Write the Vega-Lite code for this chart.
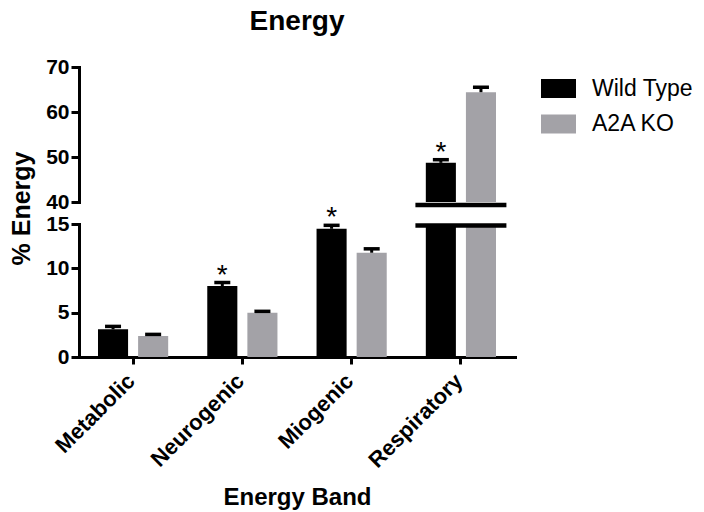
{
  "$schema": "https://vega.github.io/schema/vega-lite/v6.json",
  "padding": {"left": 9, "top": 8, "right": 5, "bottom": 0},
  "bounds": "flush",
  "title": {"text": "Energy", "font": "Liberation Sans", "fontSize": 28, "fontWeight": "bold", "color": "#000000", "anchor": "middle", "offset": 20, "dx": -56},
  "datasets": {
    "bars": [
      {"category": "Metabolic", "group": "Wild Type", "value": 3.12, "hi": 3.45, "sig": ""},
      {"category": "Metabolic", "group": "A2A KO", "value": 2.37, "hi": 2.55, "sig": ""},
      {"category": "Neurogenic", "group": "Wild Type", "value": 8.0, "hi": 8.4, "sig": "*"},
      {"category": "Neurogenic", "group": "A2A KO", "value": 5.0, "hi": 5.15, "sig": ""},
      {"category": "Miogenic", "group": "Wild Type", "value": 14.46, "hi": 14.85, "sig": "*"},
      {"category": "Miogenic", "group": "A2A KO", "value": 11.76, "hi": 12.2, "sig": ""},
      {"category": "Respiratory", "group": "Wild Type", "value": 48.7, "hi": 49.4, "sig": "*"},
      {"category": "Respiratory", "group": "A2A KO", "value": 64.4, "hi": 65.5, "sig": ""}
    ]
  },
  "data": {"name": "bars"},
  "spacing": 22,
  "resolve": {"scale": {"y": "independent"}},
  "vconcat": [
    {
      "width": 436,
      "height": 135,
      "encoding": {
        "x": {"field": "category", "type": "nominal", "sort": ["Metabolic", "Neurogenic", "Miogenic", "Respiratory"], "scale": {"domain": ["Metabolic", "Neurogenic", "Miogenic", "Respiratory"], "paddingInner": 0.266, "paddingOuter": 0.128}, "axis": null}
      },
      "layer": [
        {
          "mark": {"type": "bar", "clip": true},
          "encoding": {
            "xOffset": {"field": "group", "type": "nominal", "scale": {"domain": ["Wild Type", "A2A KO"], "paddingInner": 0.25, "paddingOuter": 0.125}},
            "y": {"field": "value", "type": "quantitative", "scale": {"domain": [40, 70], "zero": false, "nice": false}, "axis": {"values": [40, 50, 60, 70], "title": "% Energy", "titleX": -50, "titleY": 141, "titleAngle": 270, "titleAlign": "center", "titleBaseline": "alphabetic", "titleFontSize": 25}},
            "color": {"field": "group", "type": "nominal", "scale": {"domain": ["Wild Type", "A2A KO"], "range": ["#000000", "#a3a2a7"]}, "legend": {"title": null}}
          }
        },
        {
          "transform": [{"filter": "datum.value > 40"}],
          "mark": {"type": "rule", "color": "#000000", "strokeWidth": 3},
          "encoding": {"xOffset": {"field": "group", "type": "nominal"}, "y": {"field": "value", "type": "quantitative"}, "y2": {"field": "hi"}}
        },
        {
          "transform": [{"filter": "datum.value > 40"}],
          "mark": {"type": "tick", "color": "#000000", "size": 16, "thickness": 3.5, "opacity": 1},
          "encoding": {"xOffset": {"field": "group", "type": "nominal"}, "y": {"field": "hi", "type": "quantitative"}}
        },
        {
          "transform": [{"filter": "datum.value > 40 && datum.sig != ''"}],
          "mark": {"type": "text", "font": "Liberation Sans", "fontSize": 28, "baseline": "alphabetic", "dy": 1, "color": "#000000"},
          "encoding": {"xOffset": {"field": "group", "type": "nominal"}, "y": {"field": "hi", "type": "quantitative"}, "text": {"field": "sig"}}
        },
        {
          "transform": [{"filter": "datum.category == 'Respiratory' && datum.group == 'Wild Type'"}],
          "mark": {"type": "tick", "color": "#000000", "size": 91, "thickness": 4.5, "yOffset": 3, "opacity": 1},
          "encoding": {"y": {"datum": 40, "type": "quantitative"}}
        }
      ]
    },
    {
      "width": 436,
      "height": 133,
      "encoding": {
        "x": {"field": "category", "type": "nominal", "sort": ["Metabolic", "Neurogenic", "Miogenic", "Respiratory"], "scale": {"domain": ["Metabolic", "Neurogenic", "Miogenic", "Respiratory"], "paddingInner": 0.266, "paddingOuter": 0.128}, "axis": {"title": "Energy Band", "labelAngle": -45, "labelFontSize": 22, "labelFontWeight": "bold", "labelOffset": -9, "labelPadding": 6, "titleFontSize": 24, "titlePadding": 14, "tickSize": 7}}
      },
      "layer": [
        {
          "mark": {"type": "bar", "clip": true},
          "encoding": {
            "xOffset": {"field": "group", "type": "nominal", "scale": {"domain": ["Wild Type", "A2A KO"], "paddingInner": 0.25, "paddingOuter": 0.125}},
            "y": {"field": "value", "type": "quantitative", "scale": {"domain": [0, 15], "nice": false}, "axis": {"values": [0, 5, 10, 15], "title": null}},
            "color": {"field": "group", "type": "nominal", "scale": {"domain": ["Wild Type", "A2A KO"], "range": ["#000000", "#a3a2a7"]}, "legend": {"title": null}}
          }
        },
        {
          "transform": [{"filter": "datum.value < 15"}],
          "mark": {"type": "rule", "color": "#000000", "strokeWidth": 3},
          "encoding": {"xOffset": {"field": "group", "type": "nominal"}, "y": {"field": "value", "type": "quantitative"}, "y2": {"field": "hi"}}
        },
        {
          "transform": [{"filter": "datum.value < 15"}],
          "mark": {"type": "tick", "color": "#000000", "size": 16, "thickness": 3.5, "opacity": 1},
          "encoding": {"xOffset": {"field": "group", "type": "nominal"}, "y": {"field": "hi", "type": "quantitative"}}
        },
        {
          "transform": [{"filter": "datum.value < 15 && datum.sig != ''"}],
          "mark": {"type": "text", "font": "Liberation Sans", "fontSize": 28, "baseline": "alphabetic", "dy": 1, "color": "#000000"},
          "encoding": {"xOffset": {"field": "group", "type": "nominal"}, "y": {"field": "hi", "type": "quantitative"}, "text": {"field": "sig"}}
        },
        {
          "transform": [{"filter": "datum.category == 'Respiratory' && datum.group == 'Wild Type'"}],
          "mark": {"type": "tick", "color": "#000000", "size": 91, "thickness": 4.5, "yOffset": 1.5, "opacity": 1},
          "encoding": {"y": {"datum": 15, "type": "quantitative"}}
        }
      ]
    }
  ],
  "config": {
    "font": "Liberation Sans",
    "view": {"stroke": null},
    "axis": {"domainColor": "#000000", "domainWidth": 3, "tickColor": "#000000", "tickWidth": 3, "tickSize": 8, "labelColor": "#000000", "labelFont": "Liberation Sans", "labelFontSize": 21, "labelFontWeight": "bold", "labelPadding": 2, "titleColor": "#000000", "titleFont": "Liberation Sans", "titleFontWeight": "bold", "grid": false, "domainCap": "square"},
    "legend": {"labelFont": "Liberation Sans", "labelFontSize": 23, "labelColor": "#000000", "symbolType": "M-1,-0.543H1V0.543H-1Z", "symbolSize": 1225, "symbolStrokeWidth": 0, "symbolOpacity": 1, "labelOffset": 16, "rowPadding": 5.5, "offset": 22, "padding": 4}
  }
}
